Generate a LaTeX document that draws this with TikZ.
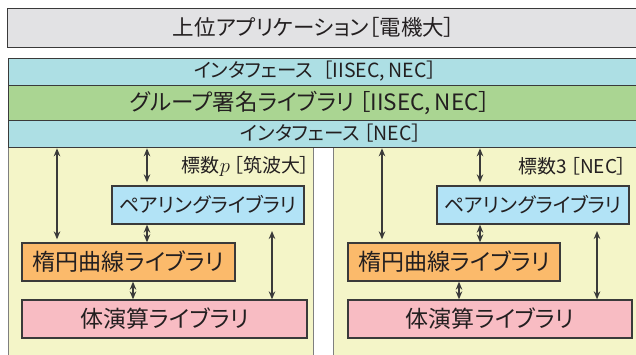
\documentclass[tikz,border=0pt]{standalone}
\usepackage{fontspec}
\setmainfont{Noto Sans CJK JP}[RawFeature=+palt]
\usetikzlibrary{arrows.meta}
\definecolor{topgray}{HTML}{E2E2E4}
\definecolor{ifc}{HTML}{ADDFE4}
\definecolor{grpc}{HTML}{AAD592}
\definecolor{panelc}{HTML}{F4F5C8}
\definecolor{pairc}{HTML}{B2E3F6}
\definecolor{ellc}{HTML}{FBBA6B}
\definecolor{fieldc}{HTML}{F8BCC3}
\definecolor{linedark}{HTML}{3A3A3A}
\definecolor{linegray}{HTML}{7F7F7F}
\definecolor{txtc}{HTML}{231F20}
\newcommand{\fs}[1]{\fontsize{#1bp}{#1bp}\selectfont}
\begin{document}
\begin{tikzpicture}[x=1bp,y=-1bp,
  bar/.style={draw=linedark, line width=1.3bp, anchor=north west, inner sep=0pt, minimum width=640bp},
  panel/.style={draw=linegray, line width=1.3bp, fill=panelc, anchor=north west, inner sep=0pt},
  lib/.style={draw=linedark, line width=1.3bp, inner sep=0pt, minimum height=38bp, text=txtc},
  dbl/.style={{Stealth[length=8bp,width=6.5bp]}-{Stealth[length=8bp,width=6.5bp]}, line width=1.5bp, draw=linedark},
  txt/.style={inner sep=0pt, text=txtc}
]
\useasboundingbox (0,0) rectangle (636,354);
\clip (0,0) rectangle (636,354);

% top application box
\node[bar, fill=topgray, minimum height=39bp] (app) at (7,8) {};
\node[txt, font=\fs{21.5}] (appT) at (314,27.5) {上位アプリケーション［電機大］};

% panels
\node[panel, minimum width=305bp, minimum height=230bp] (panL) at (8,147) {};
\node[panel, minimum width=320bp, minimum height=230bp] (panR) at (333,147) {};

% bars
\node[bar, fill=ifc, minimum height=27bp] (ifA) at (8,58) {};
\node[bar, fill=grpc, minimum height=35bp] (grp) at (8,85) {};
\node[bar, fill=ifc, minimum height=27bp] (ifB) at (8,120) {};
\node[txt, font=\fs{19.5}] (ifAT) at (315,71.5) {インタフェース\hspace{0.5em}［IISEC,\,NEC］};
\node[txt, font=\fs{22.5}] (grpT) at (310,102.5) {グループ署名ライブラリ\hspace{0.2em}［IISEC,\,NEC］};
\node[txt, font=\fs{19.5}] (ifBT) at (331,133.5) {インタフェース\hspace{0.2em}［NEC］};

% left panel
\node[txt, font=\fs{19}, anchor=east] (labL) at (310,166) {標数$p$\hspace{0.2em}［筑波大］};
\node[lib, fill=pairc, minimum width=192bp, font=\fs{20}] (pairL) at (208,205) {ペアリングライブラリ};
\node[lib, fill=ellc, minimum width=213bp, font=\fs{23}] (ellL) at (128.5,262) {楕円曲線ライブラリ};
\node[lib, fill=fieldc, minimum width=285bp, font=\fs{23}] (fieldL) at (164.5,319) {体演算ライブラリ};

% right panel
\node[txt, font=\fs{19}, anchor=east] (labR) at (627,166) {標数3\hspace{0.2em}［NEC］};
\node[lib, fill=pairc, minimum width=192bp, font=\fs{20}] (pairR) at (533,205) {ペアリングライブラリ};
\node[lib, fill=ellc, minimum width=212bp, font=\fs{23}] (ellR) at (454,262) {楕円曲線ライブラリ};
\node[lib, fill=fieldc, minimum width=284bp, font=\fs{23}] (fieldR) at (490,319) {体演算ライブラリ};

% arrow columns
\coordinate (la) at (57,0);
\coordinate (lb) at (147,0);
\coordinate (lc) at (133,0);
\coordinate (ld) at (272,231);
\coordinate (ra) at (382,0);
\coordinate (rb) at (480,0);
\coordinate (rc) at (459,0);
\coordinate (rd) at (597,231);

% left arrows
\draw[dbl, shorten >=3bp] (la |- ifB.south) -- (la |- ellL.north);
\draw[dbl, shorten >=3bp] (lb |- ifB.south) -- (lb |- pairL.north);
\draw[dbl] (lb |- pairL.south) -- (lb |- ellL.north);
\draw[dbl] (lc |- ellL.south) -- (lc |- fieldL.north);
\draw[dbl] (ld) -- (ld |- fieldL.north);

% right arrows
\draw[dbl, shorten >=3bp] (ra |- ifB.south) -- (ra |- ellR.north);
\draw[dbl, shorten >=3bp] (rb |- ifB.south) -- (rb |- pairR.north);
\draw[dbl] (rb |- pairR.south) -- (rb |- ellR.north);
\draw[dbl] (rc |- ellR.south) -- (rc |- fieldR.north);
\draw[dbl] (rd) -- (rd |- fieldR.north);
\end{tikzpicture}
\end{document}
